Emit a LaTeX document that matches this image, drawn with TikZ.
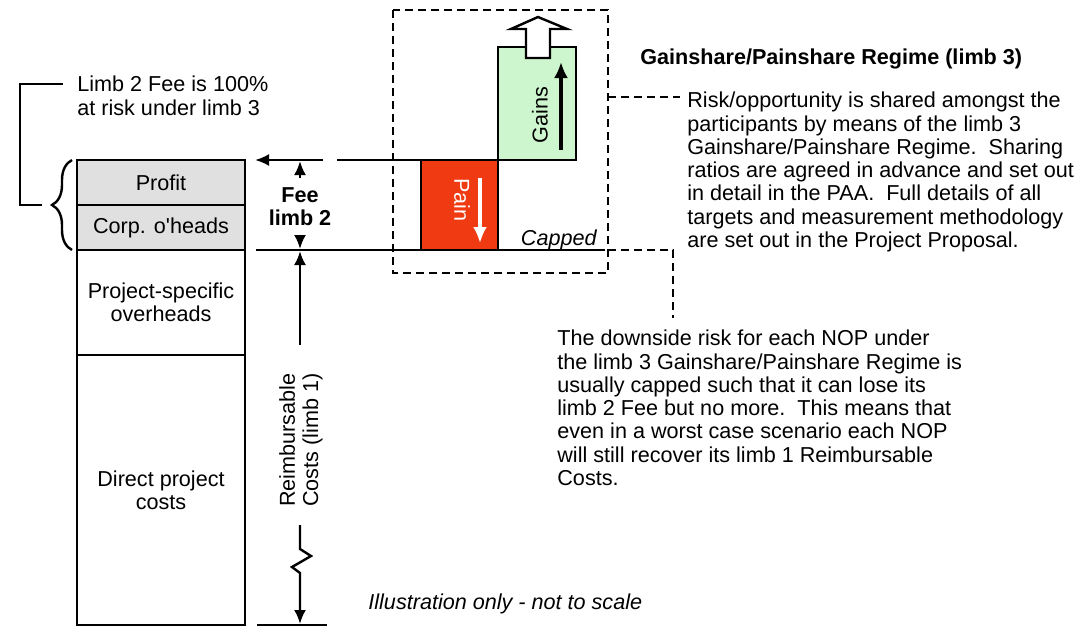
\documentclass[tikz,border=0pt]{standalone}
\usepackage{fontspec}
\setmainfont{Liberation Sans}
\usetikzlibrary{arrows.meta, positioning, decorations.pathreplacing}
\definecolor{painred}{RGB}{240,58,18}
\definecolor{gaingreen}{RGB}{206,246,206}
\definecolor{feegray}{RGB}{224,224,224}

\begin{document}
\begin{tikzpicture}[x=0.5pt, y=-0.5pt,
    txt/.style={inner sep=0pt, font=\fontsize{10.8}{11.65}\selectfont},
    boldtxt/.style={inner sep=0pt, font=\fontsize{10.8}{11.65}\selectfont\bfseries},
    colbox/.style={draw, line width=1.4pt, minimum width=84pt, outer sep=0pt, align=center, txt},
    dimarrow/.style={line width=1.2pt, -{Latex[length=7pt,width=6pt]}},
    regline/.style={line width=1.2pt},
    leader/.style={line width=1.2pt, dash pattern=on 4pt off 2.5pt}]
    \useasboundingbox (0,0) rectangle (1084,628);

    % cost column
    \node[colbox, fill=feegray, minimum height=22.5pt, anchor=north west] (profit) at (77,160) {Profit};
    \node[colbox, fill=feegray, minimum height=22.5pt, below=0pt of profit] (corp) {Corp. o\textquotesingle heads};
    \node[colbox, minimum height=52.5pt, below=0pt of corp] (projoh) {Project-specific\\overheads};
    \node[colbox, minimum height=135pt, below=0pt of projoh] (direct) {Direct project\\costs};

    % brace and note
    \draw[regline, decorate, decoration={brace, amplitude=10pt}] (profit.north west |- corp.south) ++(-5,0) coordinate (bracebot) -- (bracebot |- profit.north);
    \coordinate (bracetip) at (42,205);
    \coordinate (notecorner) at (20,84);
    \node[txt, anchor=north west, align=left] (limbnote) at (77,75) {\strut Limb 2 Fee is 100\%\\at risk under limb 3};
    \draw[regline] (bracetip) -- (notecorner |- bracetip) -- (notecorner) -- (63,84);

    % gainshare / painshare
    \node[draw, line width=1.2pt, fill=painred, minimum width=38.5pt, minimum height=45pt,
          anchor=south west, outer sep=0pt] (pain) at (421,250) {};
    \node[draw, line width=1.2pt, fill=gaingreen, minimum width=39pt, minimum height=56.5pt,
          anchor=south west, outer sep=0pt] (gains) at (pain.north east) {};
    \draw[line width=1.2pt, fill=white] (526,58) -- (526,29) -- (511,29) -- (538,17)
        -- (567,29) -- (550,29) -- (550,58) -- cycle;
    \node[txt, rotate=-90, white] (painlbl) at (462,200) {Pain};
    \node[txt, rotate=90] (gainslbl) at (540,115) {Gains};
    \draw[line width=1.6pt, white, -{Latex[length=8pt,width=7pt]}] (480,178) -- (480,243);
    \draw[line width=1.6pt, -{Latex[length=8pt,width=7pt]}] (561,150) -- (561,62);

    % reference lines
    \draw[dimarrow] (323,160) -- (profit.north east -| 255,0);
    \draw[regline] (337,160) -- (pain.north west);
    \draw[regline] (256,250) -- (605,250);
    \draw[line width=1.4pt] (257,625) -- (327,625);
    \node[txt, anchor=base east] (capped) at (597,245) {\itshape Capped};

    % dimensions
    \node[boldtxt, align=center] (fee) at (300,207) {Fee\\limb 2};
    \draw[dimarrow] (300,178) -- (300,161);
    \draw[dimarrow] (300,236) -- (300,249);
    \draw[dimarrow] (300,345) -- (300,251);
    \node[txt, rotate=90, align=center] (reimb) at (301,440) {Reimbursable\\Costs (limb 1)};
    \draw[dimarrow] (300,525) -- (300,549) -- (311,556) -- (292,567) -- (300,573) -- (300,624);

    % regime box and notes
    \draw[leader] (393,10) rectangle (608,273);
    \coordinate (riskend) at (608,97);
    \coordinate (capend) at (608,250);
    \node[boldtxt, anchor=base west] (title) at (640,64) {Gainshare/Painshare Regime (limb 3)};
    \node[txt, anchor=north west, align=left] (risk) at (687,91)
        {\strut Risk/opportunity is shared amongst the\\participants by means of the limb 3\\Gainshare/Painshare Regime.\ \ Sharing\\ratios are agreed in advance and set out\\in detail in the PAA.\ \ Full details of all\\targets and measurement methodology\\are set out in the Project Proposal.};
    \node[txt, anchor=north west, align=left] (downside) at (557,329)
        {\strut The downside risk for each NOP under\\the limb 3 Gainshare/Painshare Regime is\\usually capped such that it can lose its\\limb 2 Fee but no more.\ \ This means that\\even in a worst case scenario each NOP\\will still recover its limb 1 Reimbursable\\Costs.};
    \draw[leader] (riskend) -- (680,97);
    \draw[leader] (capend) -- (673,250) -- (673,318);
    \node[txt, anchor=base west] (scale) at (368,609) {\itshape Illustration only - not to scale};
\end{tikzpicture}
\end{document}
